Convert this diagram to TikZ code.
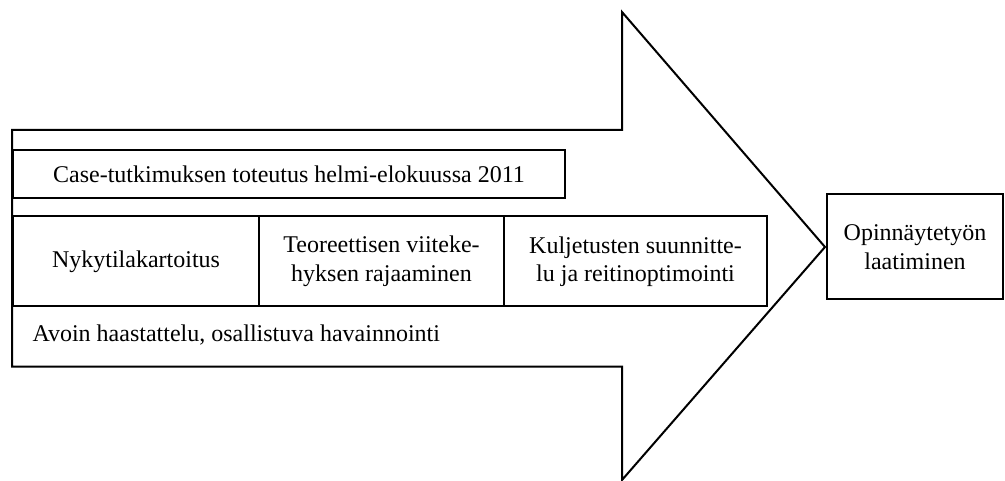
\documentclass[tikz,border=0pt]{standalone}
\usepackage{fontspec}
\setmainfont{Liberation Serif}
\begin{document}
\begin{tikzpicture}[x=1pt,y=-1pt,
  line width=2pt,
  txt/.style={font=\fontsize{24}{28.5}\selectfont, align=center},
  cell/.style={draw, txt, inner sep=0pt, anchor=north west}]
\useasboundingbox (0,0) rectangle (1005,481);
% big block arrow
\draw[line join=miter] (12,130) -- (622,130) -- (622,12) -- (825,247)
  -- (622,480) -- (622,366.5) -- (12,366.5) -- cycle;
% top band
\node[cell, minimum width=552pt, minimum height=48pt] (case) at (12,149)
  {Case-tutkimuksen toteutus helmi-elokuussa 2011};
% three phases
\node[cell, minimum width=246pt, minimum height=90pt] (nyky) at (12,215.5)
  {Nykytilakartoitus};
\node[cell, minimum width=245pt, minimum height=90pt] (teor) at (258,215.5)
  {Teoreettisen viiteke-\\hyksen rajaaminen};
\node[cell, minimum width=263pt, minimum height=90pt] (kulj) at (503,215.5)
  {Kuljetusten suunnitte-\\lu ja reitinoptimointi};
% methods line
\node[txt, anchor=base west, inner sep=0pt] (avoin) at (31.5,341.5)
  {Avoin haastattelu, osallistuva havainnointi};
% result box
\node[cell, minimum width=176pt, minimum height=105pt] (opin) at (826,193.5)
  {Opinnäytetyön\\laatiminen};
\end{tikzpicture}
\end{document}
